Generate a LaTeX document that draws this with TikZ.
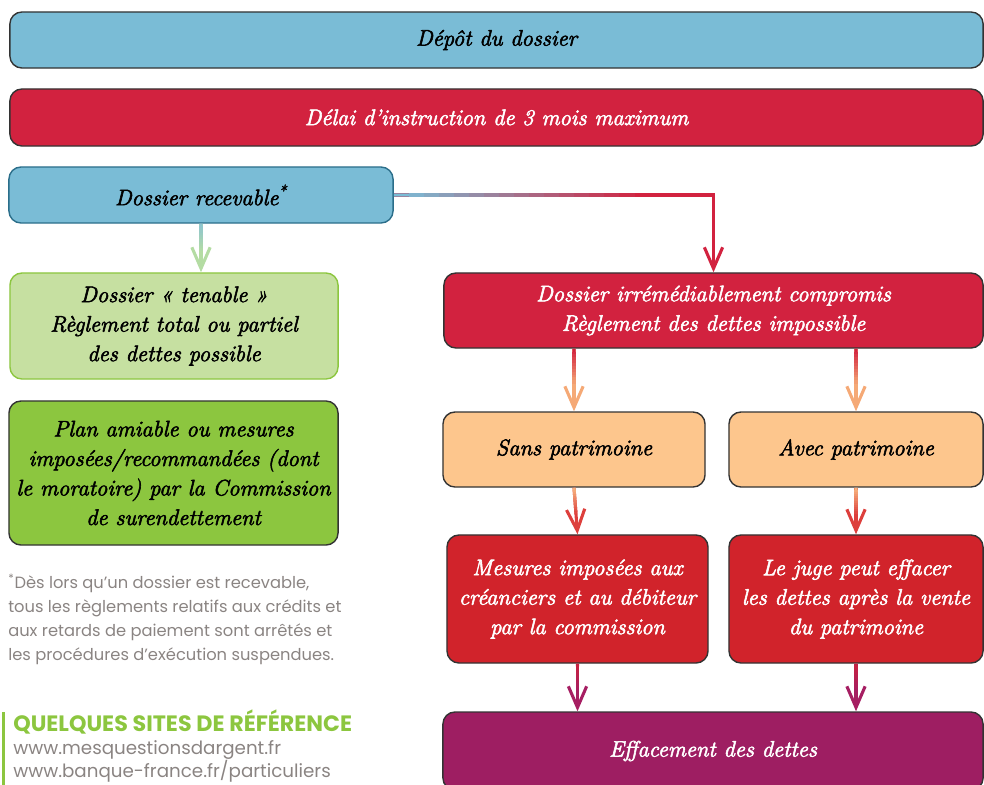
\documentclass[tikz,border=0pt]{standalone}
\usepackage{fontspec}
\newfontfamily\footfont{Poppins}
\newfontfamily\boxfont{Latin Modern Roman}[FakeBold=2.5]
\usetikzlibrary{arrows.meta,calc}

\definecolor{boxblue}{HTML}{7ABCD6}
\definecolor{boxred}{HTML}{D2223F}
\definecolor{boxredtwo}{HTML}{D1232B}
\definecolor{boxlightgreen}{HTML}{C6E0A1}
\definecolor{boxgreen}{HTML}{8CC63F}
\definecolor{boxorange}{HTML}{FDC68D}
\definecolor{boxpurple}{HTML}{9E1E62}
\definecolor{boxline}{HTML}{333333}
\definecolor{boxteal}{HTML}{2B6E8A}
\definecolor{arrteal}{HTML}{8DC4D0}
\definecolor{arrgreen}{HTML}{B4DCA3}
\definecolor{arrred}{HTML}{D2223F}
\definecolor{arrorange}{HTML}{F5A976}
\definecolor{arrlight}{HTML}{F7B47E}
\definecolor{arrredtwo}{HTML}{DD3F3C}
\definecolor{arrcrimson}{HTML}{C8213F}
\definecolor{arrpurple}{HTML}{A61E62}
\definecolor{footgray}{HTML}{8A8482}

\begin{document}
\begin{tikzpicture}[x=0.025cm,y=-0.025cm,
    blockbox/.style={rectangle, rounded corners=0.3cm, draw=boxline, line width=1pt},
    boxtext/.style={font=\boxfont\itshape\fontsize{16}{21}\selectfont, align=center, inner sep=0pt},
    conn/.style={line width=2.2pt, -{Straight Barb[length=15pt,width=13pt]}},
    seg/.style={line width=2.2pt}]

    \useasboundingbox (0,0) rectangle (984,784);

    \node[blockbox,
          fill = boxblue,
          minimum width = 24.325cm,
          minimum height = 1.4cm
          ] (depot) at (496.5,40) {};
    \node[boxtext] at (depot.center) {Dépôt du dossier};

    \node[blockbox,
          fill = boxred,
          minimum width = 24.325cm,
          minimum height = 1.425cm
          ] (delai) at (496.5,117.5) {};
    \node[boxtext, white] at (delai.center) {Délai d’instruction de 3 mois maximum};

    \node[blockbox,
          draw = boxteal,
          fill = boxblue,
          minimum width = 9.6cm,
          minimum height = 1.4cm
          ] (recev) at (201,195) {};
    \node[boxtext] at (recev.center) {Dossier recevable\textsuperscript{*}};

    \node[blockbox,
          draw = boxgreen,
          fill = boxlightgreen,
          minimum width = 8.2cm,
          minimum height = 2.65cm
          ] (tenable) at (174,326) {};
    \node[boxtext] at (tenable.center) {Dossier «~tenable~»\\Règlement total ou partiel\\des dettes possible};

    \node[blockbox,
          fill = boxgreen,
          minimum width = 8.225cm,
          minimum height = 3.6cm
          ] (plan) at (173.5,473) {};
    \node[boxtext] at (plan.center) {Plan amiable ou mesures\\imposées/recommandées (dont\\le moratoire) par la Commission\\de surendettement};

    \node[blockbox,
          fill = boxred,
          minimum width = 13.475cm,
          minimum height = 1.875cm
          ] (comp) at (713.5,310.5) {};
    \node[boxtext, white] at (comp.center) {Dossier irrémédiablement compromis\\Règlement des dettes impossible};

    \node[blockbox,
          fill = boxorange,
          minimum width = 6.55cm,
          minimum height = 1.875cm
          ] (sans) at (574,449.5) {};
    \node[boxtext] at (sans.center) {Sans patrimoine};

    \node[blockbox,
          fill = boxorange,
          minimum width = 6.35cm,
          minimum height = 1.875cm
          ] (avec) at (856,449.5) {};
    \node[boxtext] at (avec.center) {Avec patrimoine};

    \node[blockbox,
          fill = boxredtwo,
          minimum width = 6.525cm,
          minimum height = 3.2cm
          ] (mesures) at (577.5,599) {};
    \node[boxtext, white] at (mesures.center) {Mesures imposées aux\\créanciers et au débiteur\\par la commission};

    \node[blockbox,
          fill = boxredtwo,
          minimum width = 6.35cm,
          minimum height = 3.2cm
          ] (juge) at (856,599) {};
    \node[boxtext, white] at (juge.center) {Le juge peut effacer\\les dettes après la vente\\du patrimoine};

    \node[blockbox,
          fill = boxpurple,
          minimum width = 13.5cm,
          minimum height = 1.95cm
          ] (effac) at (713,751) {};
    \node[boxtext, white] at (effac.center) {Effacement des dettes};

    %footnote and sites
    \node[font=\footfont\fontsize{11.6}{16.9}\selectfont, text=footgray, align=left,
          inner sep=0pt, anchor=north west] (note) at (8,574)
        {\textsuperscript{*}Dès lors qu’un dossier est recevable,\\tous les règlements relatifs aux crédits et\\aux retards de paiement sont arrêtés et\\les procédures d’exécution suspendues.};
    \node[font=\footfont\bfseries\fontsize{15.8}{18}\selectfont, text=boxgreen,
          inner sep=0pt, anchor=west] (sites) at (13,722) {QUELQUES SITES DE RÉFÉRENCE};
    \node[font=\footfont\fontsize{13}{15.6}\selectfont, text=footgray, align=left,
          inner sep=0pt, anchor=north west] (urls) at (13,740)
        {www.mesquestionsdargent.fr\\www.banque-france.fr/particuliers};
    \draw[boxgreen, line width=1.8pt] (3.5,712) -- (3.5,790);

    %connector ends
    \coordinate (turn) at (recev.east -| comp.north);
    \coordinate (tten) at (tenable.north -| recev.south);
    \coordinate (csans) at (comp.south -| sans.north);
    \coordinate (cavec) at (comp.south -| avec.north);
    \coordinate (emes) at (effac.north -| mesures.south);
    \coordinate (ejuge) at (effac.north -| juge.south);

    \draw[conn, arrred] (recev.east) -- (turn) -- (comp.north);
    \foreach \s/\t/\ca/\cb in {recev.south/tten/arrteal/arrgreen,
                               csans/sans.north/arrred/arrorange,
                               cavec/avec.north/arrred/arrorange,
                               sans.south/mesures.north/arrlight/arrredtwo,
                               avec.south/juge.north/arrlight/arrredtwo,
                               mesures.south/emes/arrcrimson/arrpurple,
                               juge.south/ejuge/arrcrimson/arrpurple}
    {
        \draw[conn, \cb] (\s) -- (\t);
        \foreach \i [evaluate=\i as \p using 100-\i*100/12,
                     evaluate=\i as \u using \i*0.55/12,
                     evaluate=\i as \v using (\i+1)*0.55/12+0.01] in {0,...,11}
            \draw[seg, \ca!\p!\cb] ($(\s)!\u!(\t)$) -- ($(\s)!\v!(\t)$);
    }
    %gradient on the long connector
    \foreach \i [evaluate=\i as \p using 100-\i*100/16,
                 evaluate=\i as \u using \i*0.75/16,
                 evaluate=\i as \v using (\i+1)*0.75/16+0.005] in {0,...,15}
        \draw[seg, boxblue!\p!arrred] ($(recev.east)!\u!(turn)$) -- ($(recev.east)!\v!(turn)$);

\end{tikzpicture}
\end{document}
